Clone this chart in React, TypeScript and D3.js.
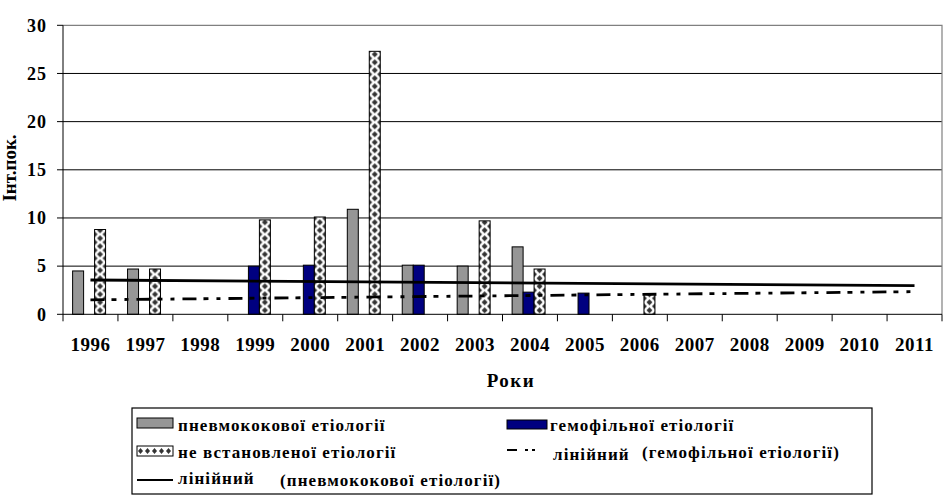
import { useEffect, useRef } from 'react';
import * as d3 from 'd3';

// categories
const years = ['1996', '1997', '1998', '1999', '2000', '2001', '2002', '2003',
  '2004', '2005', '2006', '2007', '2008', '2009', '2010', '2011'];

// series values (null = no bar)
const pneumo = [4.5, 4.7, null, null, null, 10.9, 5.1, 5.0, 7.0, null, null, null, null, null, null, null];
const haemo = [null, null, null, 5.0, 5.1, null, 5.1, null, 2.3, 2.2, null, null, null, null, null, null];
const unknown = [8.8, 4.7, null, 9.8, 10.1, 27.3, null, 9.7, 4.7, null, 2.1, null, null, null, null, null];

// linear trend values at first and last year
const pneumoTrend = [3.56, 2.98];
const haemoTrend = [1.5, 2.35];

const yTicks = [0, 5, 10, 15, 20, 25, 30];

const seriesKeys = ['pneumo', 'haemo', 'unknown'];
const FONT = "'Liberation Serif', 'Times New Roman', serif";

export default function App() {
  const svgRef = useRef<SVGSVGElement>(null);

  useEffect(() => {
    if (!svgRef.current) return;
    const svg = d3.select(svgRef.current);
    svg.selectAll('*').remove();

    const width = 946;
    const height = 502;
    const plot = { left: 63, right: 942, top: 25.3, bottom: 314.3 };

    svg.attr('width', width).attr('height', height)
      .attr('font-family', FONT)
      .attr('font-weight', 'bold');
    svg.append('rect').attr('width', width).attr('height', height).attr('fill', '#fff');

    const x0 = d3.scaleBand().domain(years).range([plot.left, plot.right]).padding(0);
    const x1 = d3.scaleBand().domain(seriesKeys)
      .range([x0.bandwidth() * 0.175, x0.bandwidth() * 0.775]).padding(0);
    const y = d3.scaleLinear().domain([0, 30]).range([plot.bottom, plot.top]);
    const bw = x1.bandwidth();

    const defs = svg.append('defs');

    // gridlines
    svg.append('g')
      .selectAll('line')
      .data(yTicks.filter(t => t > 0 && t < 30))
      .enter()
      .append('line')
      .attr('x1', plot.left).attr('x2', plot.right)
      .attr('y1', d => y(d)).attr('y2', d => y(d))
      .attr('stroke', '#000').attr('stroke-width', 1);

    // plot border (top + right, gray)
    svg.append('path')
      .attr('d', `M${plot.left},${y(30)}H${plot.right}V${plot.bottom}`)
      .attr('fill', 'none').attr('stroke', '#808080').attr('stroke-width', 1.2);

    // bars
    const barData = [
      { key: 'pneumo', values: pneumo, fill: '#969696' },
      { key: 'haemo', values: haemo, fill: '#000080' },
    ];
    barData.forEach(s => {
      svg.append('g')
        .selectAll('rect')
        .data(years.map((yr, i) => ({ yr, v: s.values[i] })).filter(d => d.v != null))
        .enter()
        .append('rect')
        .attr('x', d => (x0(d.yr) || 0) + (x1(s.key) || 0))
        .attr('y', d => y(d.v as number))
        .attr('width', bw)
        .attr('height', d => plot.bottom - y(d.v as number))
        .attr('fill', s.fill)
        .attr('stroke', '#000')
        .attr('stroke-width', 1);
    });

    // patterned bars (diamond pattern, one per bar so it lines up)
    const unk = years.map((yr, i) => ({ yr, v: unknown[i], i })).filter(d => d.v != null);
    unk.forEach(d => {
      const bx = (x0(d.yr) || 0) + (x1('unknown') || 0);
      const p = defs.append('pattern')
        .attr('id', `diam${d.i}`)
        .attr('patternUnits', 'userSpaceOnUse')
        .attr('x', bx).attr('y', plot.bottom)
        .attr('width', bw).attr('height', 8);
      p.append('rect').attr('width', bw).attr('height', 8).attr('fill', '#fff');
      const r = 3;
      const diamond = (cx: number, cy: number) =>
        `M${cx},${cy - r}L${cx + r},${cy}L${cx},${cy + r}L${cx - r},${cy}Z`;
      p.append('path')
        .attr('d', [diamond(bw / 2, 4), diamond(0, 0), diamond(bw, 0), diamond(0, 8), diamond(bw, 8)].join(''))
        .attr('fill', '#333');
      svg.append('rect')
        .attr('x', bx)
        .attr('y', y(d.v as number))
        .attr('width', bw)
        .attr('height', plot.bottom - y(d.v as number))
        .attr('fill', `url(#diam${d.i})`)
        .attr('stroke', '#000')
        .attr('stroke-width', 1);
    });

    // trend lines
    const cx = (yr: string) => (x0(yr) || 0) + x0.bandwidth() / 2;
    const first = years[0];
    const last = years[years.length - 1];
    svg.append('line')
      .attr('x1', cx(first)).attr('x2', cx(last))
      .attr('y1', y(pneumoTrend[0])).attr('y2', y(pneumoTrend[1]))
      .attr('stroke', '#000').attr('stroke-width', 2.8);
    svg.append('line')
      .attr('x1', cx(first)).attr('x2', cx(last))
      .attr('y1', y(haemoTrend[0])).attr('y2', y(haemoTrend[1]))
      .attr('stroke', '#000').attr('stroke-width', 2.8)
      .attr('stroke-dasharray', '14,7,5,8,4,8');

    // axes
    svg.append('line')
      .attr('x1', plot.left).attr('x2', plot.right)
      .attr('y1', plot.bottom).attr('y2', plot.bottom)
      .attr('stroke', '#000');
    svg.append('line')
      .attr('x1', plot.left).attr('x2', plot.left)
      .attr('y1', y(30)).attr('y2', plot.bottom + 7)
      .attr('stroke', '#000');

    // y ticks
    const yg = svg.append('g');
    yTicks.forEach(t => {
      yg.append('line')
        .attr('x1', plot.left - 6).attr('x2', plot.left)
        .attr('y1', y(t)).attr('y2', y(t))
        .attr('stroke', '#000');
      yg.append('text')
        .attr('x', 47).attr('y', y(t))
        .attr('dy', '0.35em')
        .attr('text-anchor', 'end')
        .attr('font-size', 18)
        .attr('letter-spacing', 1)
        .text(t);
    });

    // x ticks at category boundaries
    const bounds = years.map(yr => x0(yr) || 0).concat([plot.right]);
    svg.append('g')
      .selectAll('line')
      .data(bounds.slice(1))
      .enter()
      .append('line')
      .attr('x1', d => d).attr('x2', d => d)
      .attr('y1', plot.bottom).attr('y2', plot.bottom + 7)
      .attr('stroke', '#000');

    svg.append('g')
      .selectAll('text')
      .data(years)
      .enter()
      .append('text')
      .attr('x', d => cx(d))
      .attr('y', 351)
      .attr('text-anchor', 'middle')
      .attr('font-size', 19)
      .attr('letter-spacing', 0.5)
      .text(d => d);

    // axis titles
    svg.append('text')
      .attr('x', 511).attr('y', 387)
      .attr('text-anchor', 'middle')
      .attr('font-size', 19)
      .attr('letter-spacing', 1.5)
      .text('Роки');
    svg.append('text')
      .attr('transform', 'translate(16,168) rotate(-90)')
      .attr('text-anchor', 'middle')
      .attr('font-size', 19)
      .text('Інт.пок.');

    // legend
    const lg = svg.append('g');
    lg.append('rect')
      .attr('x', 132).attr('y', 408).attr('width', 740).attr('height', 86)
      .attr('fill', '#fff').attr('stroke', '#000').attr('stroke-width', 1.2);

    const lp = defs.append('pattern')
      .attr('id', 'legDiam')
      .attr('patternUnits', 'userSpaceOnUse')
      .attr('x', 137).attr('y', 446)
      .attr('width', 7).attr('height', 10);
    lp.append('rect').attr('width', 7).attr('height', 10).attr('fill', '#fff');
    lp.append('path').attr('d', 'M3.5,2L6,5L3.5,8L1,5Z').attr('fill', '#333');

    lg.append('rect').attr('x', 137).attr('y', 418).attr('width', 36).attr('height', 10)
      .attr('fill', '#969696').attr('stroke', '#000');
    lg.append('rect').attr('x', 137).attr('y', 446).attr('width', 36).attr('height', 10)
      .attr('fill', 'url(#legDiam)').attr('stroke', '#000');
    lg.append('line').attr('x1', 137).attr('x2', 173).attr('y1', 480).attr('y2', 480)
      .attr('stroke', '#000').attr('stroke-width', 2);
    lg.append('rect').attr('x', 507).attr('y', 420).attr('width', 40).attr('height', 9)
      .attr('fill', '#000080').attr('stroke', '#000');
    lg.append('line').attr('x1', 507).attr('x2', 537).attr('y1', 450).attr('y2', 450)
      .attr('stroke', '#000').attr('stroke-width', 2)
      .attr('stroke-dasharray', '10,8,3,4,3,20');

    const legendTexts: [number, number, string][] = [
      [178, 431, 'пневмококової етіології'],
      [550, 431, 'гемофільної етіології'],
      [178, 458, 'не встановленої етіології'],
      [553, 460, 'лінійний'],
      [642, 458, '(гемофільної етіології)'],
      [178, 484, 'лінійний'],
      [280, 486, '(пневмококової етіології)'],
    ];
    lg.selectAll('text.leg')
      .data(legendTexts)
      .enter()
      .append('text')
      .attr('class', 'leg')
      .attr('x', d => d[0]).attr('y', d => d[1])
      .attr('font-size', 17)
      .attr('letter-spacing', 1.1)
      .text(d => d[2]);
  }, []);

  return (
    <div style={{ position: 'absolute', left: 0, top: 0 }}>
      <svg ref={svgRef} style={{ display: 'block' }}></svg>
    </div>
  );
}
